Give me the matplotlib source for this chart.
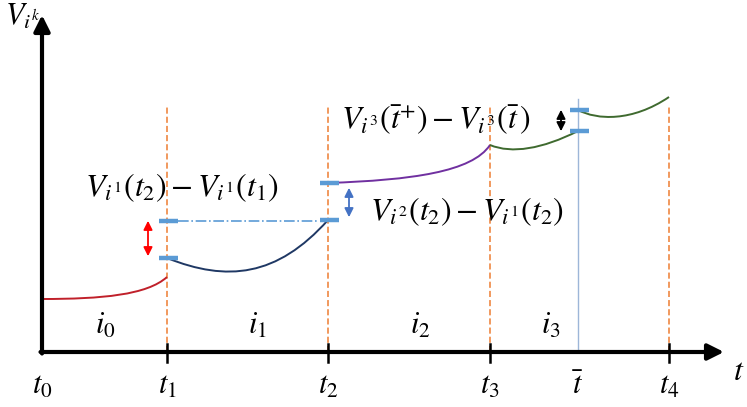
import matplotlib.pyplot as plt
from matplotlib.path import Path
from matplotlib.patches import PathPatch

plt.rcParams['mathtext.fontset'] = 'stix'

# time marks on the axis (origin = t0)
tick_names = [r'$t_0$', r'$t_1$', r'$t_2$', r'$t_3$', r'$\bar{t}$', r'$t_4$']
tick_pos = [0, 125, 286, 448, 536, 627]
phase_names = [r'$i_0$', r'$i_1$', r'$i_2$', r'$i_3$']
phase_pos = [63, 215, 378, 509]

# bezier control points of each segment
red_x = [0, 60, 105, 125]
red_y = [53, 53, 57, 75]
navy_x = [125, 185, 235, 286]
navy_y = [94, 70, 75, 132]
purple_x = [286, 370, 430, 448]
purple_y = [169, 172, 180, 207]
green1_x = [448, 470, 500, 536]
green1_y = [207, 198, 203, 221]
green2_x = [536, 555, 590, 627]
green2_y = [242, 232, 230, 255]

# jump markers (x, y)
bars = [(125, 94), (125, 131), (286, 132), (286, 169), (536, 221), (536, 242)]

fig = plt.figure(figsize=(7.47, 4.07), dpi=100)
ax = fig.add_axes([0, 0, 1, 1])
ax.set_xlim(-42, 705)
ax.set_ylim(-55, 352)
ax.axis('off')

def bezier(xs, ys, col):
    verts = list(zip(xs, ys))
    codes = [Path.MOVETO, Path.CURVE4, Path.CURVE4, Path.CURVE4]
    ax.add_patch(PathPatch(Path(verts, codes), fill=False, edgecolor=col, lw=1.4, zorder=3))

bezier(red_x, red_y, '#c0202a')
bezier(navy_x, navy_y, '#1f3864')
bezier(purple_x, purple_y, '#7030a0')
bezier(green1_x, green1_y, '#3f6a2f')
bezier(green2_x, green2_y, '#3f6a2f')

# vertical guides
for t in tick_pos[1:4] + tick_pos[5:]:
    ax.plot([t, t], [0, 247], ls=(0, (4, 2)), color='#ed7d31', lw=1.1, zorder=1)
ax.plot([tick_pos[4], tick_pos[4]], [0, 253], color='#9db6d8', lw=1, zorder=1)

# blue bars
for bx, by in bars:
    ax.plot([bx - 8, bx + 11], [by, by], color='#5b9bd5', lw=3.2, solid_capstyle='butt', zorder=4)
ax.plot([136, 276], [131, 131], color='#5b9bd5', lw=1.2, ls='-.', zorder=2)

# difference arrows
ax.annotate('', xy=(106, 134), xytext=(106, 93),
            arrowprops=dict(arrowstyle='<|-|>', color='red', lw=1.3, mutation_scale=13))
ax.annotate('', xy=(307, 167), xytext=(307, 132),
            arrowprops=dict(arrowstyle='<|-|>', color='#4472c4', lw=1.3, mutation_scale=13))
ax.annotate('', xy=(519, 245), xytext=(519, 218),
            arrowprops=dict(arrowstyle='<|-|>', color='black', lw=1.3, mutation_scale=13))

ax.text(140, 164, r'$V_{i^1}(t_2) - V_{i^1}(t_1)$', fontsize=23, ha='center', va='center')
ax.text(328, 140, r'$V_{i^2}(t_2) - V_{i^1}(t_2)$', fontsize=23, ha='left', va='center')
ax.text(299, 232, r'$V_{i^3}(\bar{t}^{+}) - V_{i^3}(\bar{t}\,)$', fontsize=23, ha='left', va='center')

# axes with arrows
ax.annotate('', xy=(0, 337), xytext=(0, -1.5),
            arrowprops=dict(arrowstyle='-|>', color='black', lw=3, mutation_scale=24, shrinkA=0, shrinkB=0))
ax.annotate('', xy=(682, 0), xytext=(-1.5, 0),
            arrowprops=dict(arrowstyle='-|>', color='black', lw=3, mutation_scale=24, shrinkA=0, shrinkB=0))
for t in tick_pos[1:4] + tick_pos[5:]:
    ax.plot([t, t], [8, -10], color='black', lw=1.8)

for name, t in zip(tick_names, tick_pos):
    ax.text(t, -34, name, fontsize=22, ha='center', va='center')
for name, p in zip(phase_names, phase_pos):
    ax.text(p, 27, name, fontsize=22, ha='center', va='center')
ax.text(697, -20, r'$t$', fontsize=23, ha='center', va='center')
ax.text(-19, 336, r'$V_{i^k}$', fontsize=22, ha='center', va='center')

fig.savefig('out.png', dpi=100)
